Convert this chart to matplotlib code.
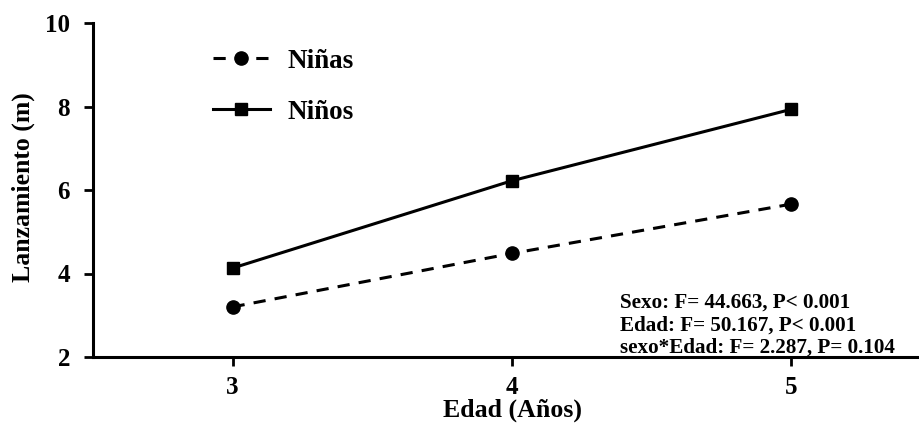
import matplotlib
matplotlib.use('Agg')
import matplotlib.pyplot as plt

plt.rcParams['font.family'] = ['Liberation Serif', 'DejaVu Serif']
plt.rcParams['font.weight'] = 'bold'

# Data
edades = [3, 4, 5]
ninas = [3.20, 4.48, 5.66]
ninos = [4.13, 6.22, 7.93]
stats_lines = ['Sexo: F= 44.663, P< 0.001',
               'Edad: F= 50.167, P< 0.001',
               'sexo*Edad: F= 2.287, P= 0.104']

fig = plt.figure(figsize=(9.19, 4.29), dpi=100)
ax = fig.add_axes([93 / 919, 1 - 357 / 429, 1 - 93 / 919, (357 - 23) / 429])

ax.plot(edades, ninas, color='black', lw=2.2, ls=(0, (4, 3)), marker='o',
        markersize=9.5, label='Niñas')
ax.plot(edades, ninos, color='black', lw=2.2, ls='-', marker='s',
        markersize=9, label='Niños')

ax.set_xlim(2.5, 5.459)
ax.set_ylim(2, 10)
ax.set_xticks(edades)
ax.set_yticks([2, 4, 6, 8, 10])

for s in ['top', 'right']:
    ax.spines[s].set_visible(False)
for s in ['left', 'bottom']:
    ax.spines[s].set_linewidth(2.2)

ax.tick_params(axis='both', labelsize=18, width=2, length=6.5, direction='out')
ax.tick_params(axis='y', pad=10)
ax.tick_params(axis='x', pad=7)

ax.set_xlabel('Edad (Años)', fontsize=18.6, fontweight='bold', va='center')
ax.xaxis.set_label_coords(0.508, -0.16)
ax.set_ylabel('Lanzamiento (m)', fontsize=18.5, fontweight='bold', va='center')
ax.yaxis.set_label_coords(-0.085, 0.509)

leg = ax.legend(loc='upper left', bbox_to_anchor=(0.132, 0.955), frameon=False,
                fontsize=19.5, handlelength=2.1, handletextpad=0.65,
                labelspacing=0.96, borderaxespad=0)
for t in leg.get_texts():
    t.set_fontweight('bold')

for i, line in enumerate(stats_lines):
    fig.text(620 / 919, 1 - (308 + 22.5 * i) / 429, line, fontsize=15.2,
             fontweight='bold', va='baseline', ha='left')

fig.savefig('out.png', dpi=100)
